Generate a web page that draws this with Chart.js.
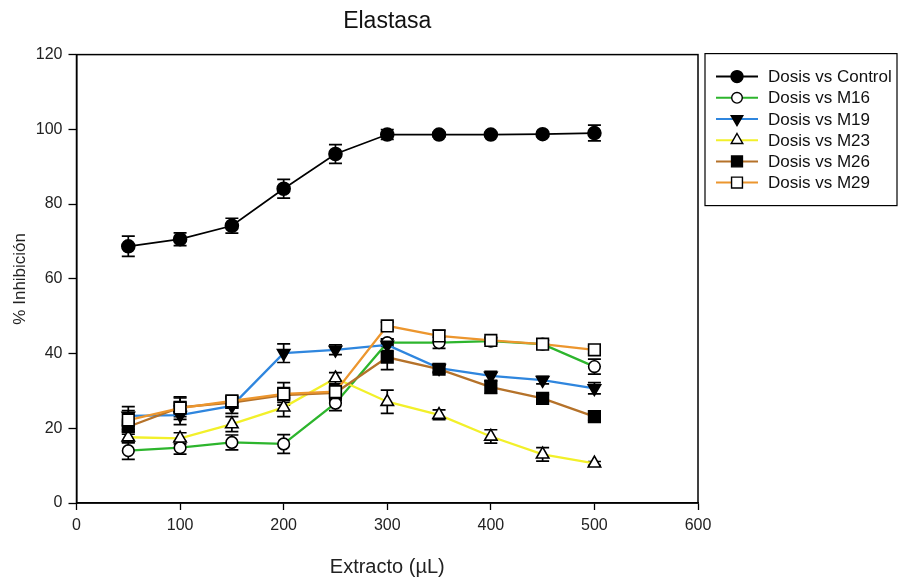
<!DOCTYPE html>
<html>
<head>
<meta charset="utf-8">
<script src="https://cdn.jsdelivr.net/npm/chart.js@4/dist/chart.umd.min.js"></script>
<style>
    html, body { margin: 0; padding: 0; background: #fff; }
    #wrap { width: 901px; height: 579px; }
</style>
</head>
<body>
<div id="wrap"><canvas id="elastasaChart" width="901" height="579"></canvas></div>
<script>
// values
const doses = [50, 100, 150, 200, 250, 300, 350, 400, 450, 500];
const xTicks = [0, 100, 200, 300, 400, 500, 600];
const yTicks = [0, 20, 40, 60, 80, 100, 120];

const control = [68.7, 70.6, 74.2, 84.1, 93.4, 98.6, 98.6, 98.6, 98.7, 99.0];
const controlErr = [2.7, 1.7, 2.0, 2.5, 2.5, 1.3, 0.6, 0.5, 0.6, 2.1];
const m16 = [14.0, 14.8, 16.2, 15.8, 26.7, 42.9, 42.9, 43.3, 42.5, 36.5];
const m16Err = [2.3, 1.7, 2.0, 2.5, 2.0, 1.0, 1.5, 0.8, 1.0, 2.0];
const m19 = [23.3, 23.5, 26.0, 40.1, 41.0, 42.3, 36.1, 34.0, 32.9, 30.7];
const m19Err = [2.5, 2.5, 2.0, 2.5, 1.3, 1.5, 1.0, 1.2, 1.0, 1.5];
const m23 = [17.6, 17.3, 21.1, 25.6, 33.4, 27.1, 23.6, 17.8, 13.0, 10.6];
const m23Err = [1.5, 1.5, 2.0, 2.5, 1.5, 3.1, 1.3, 1.8, 1.8, 0.5];
const m26 = [20.4, 25.6, 26.9, 28.9, 29.5, 39.0, 35.8, 31.0, 28.0, 23.1];
const m26Err = [2.0, 2.5, 1.5, 2.0, 2.0, 3.3, 1.0, 1.7, 1.0, 1.0];
const m29 = [22.2, 25.4, 27.3, 29.2, 29.8, 47.4, 44.7, 43.5, 42.5, 41.0];
const m29Err = [2.5, 3.0, 1.5, 3.0, 2.0, 1.0, 1.5, 0.8, 1.0, 1.0];

const FONT = "'Liberation Sans', Arial, sans-serif";

function series(label, values, errors, color, style, fill, radius, rotation, idx) {
    return {
        label: label,
        data: doses.map((d, i) => ({ x: d, y: values[i] })),
        errors: errors,
        showLine: true,
        borderColor: color,
        borderWidth: idx === 0 ? 1.7 : 2.3,
        tension: 0,
        pointStyle: style,
        pointRotation: rotation,
        pointRadius: radius,
        pointHoverRadius: radius,
        pointBackgroundColor: fill,
        pointBorderColor: '#000',
        pointBorderWidth: 1.6,
        order: 6 - idx
    };
}

// vertical error bars with caps, drawn under the markers
const errorBars = {
    id: 'errorBars',
    beforeDatasetsDraw(chart) {
        const ctx = chart.ctx;
        const ys = chart.scales.y;
        ctx.save();
        ctx.strokeStyle = '#000';
        ctx.lineWidth = 1.7;
        chart.data.datasets.forEach((ds, di) => {
            const meta = chart.getDatasetMeta(di);
            meta.data.forEach((pt, i) => {
                const v = ds.data[i].y, e = ds.errors[i];
                const top = ys.getPixelForValue(v + e);
                const bot = ys.getPixelForValue(v - e);
                ctx.beginPath();
                ctx.moveTo(pt.x, top); ctx.lineTo(pt.x, bot);
                ctx.moveTo(pt.x - 6.5, top); ctx.lineTo(pt.x + 6.5, top);
                ctx.moveTo(pt.x - 6.5, bot); ctx.lineTo(pt.x + 6.5, bot);
                ctx.stroke();
            });
        });
        ctx.restore();
    }
};

// box round the plot area
const frame = {
    id: 'frame',
    afterDraw(chart) {
        const a = chart.chartArea, ctx = chart.ctx;
        ctx.save();
        ctx.strokeStyle = '#000';
        ctx.lineWidth = 1.5;
        ctx.strokeRect(a.left, a.top, a.right - a.left, a.bottom - a.top);
        ctx.restore();
    }
};

// legend box to the right of the plot
const boxLegend = {
    id: 'boxLegend',
    afterDraw(chart) {
        const ctx = chart.ctx;
        const a = chart.chartArea;
        const bx = a.right + 7, by = a.top - 1, bw = 192, bh = 152;
        ctx.save();
        ctx.strokeStyle = '#000';
        ctx.lineWidth = 1.2;
        ctx.strokeRect(bx, by, bw, bh);
        ctx.font = '17px ' + FONT;
        ctx.textBaseline = 'middle';
        chart.data.datasets.forEach((ds, i) => {
            const y = by + 23 + i * 21.2;
            ctx.strokeStyle = ds.borderColor;
            ctx.lineWidth = 2;
            ctx.beginPath();
            ctx.moveTo(bx + 11, y); ctx.lineTo(bx + 53, y);
            ctx.stroke();
            ctx.fillStyle = ds.pointBackgroundColor;
            ctx.strokeStyle = '#000';
            ctx.lineWidth = 1.4;
            Chart.helpers.drawPoint(ctx, {
                pointStyle: ds.pointStyle,
                radius: ds.pointRadius - 0.5,
                rotation: ds.pointRotation,
                borderWidth: 1.4
            }, bx + 32, y);
            ctx.fillStyle = '#111';
            ctx.fillText(ds.label, bx + 63, y + 1);
        });
        ctx.restore();
    }
};

new Chart(document.getElementById('elastasaChart').getContext('2d'), {
    type: 'scatter',
    data: {
        datasets: [
            series('Dosis vs Control', control, controlErr, '#000000', 'circle', '#000', 6.5, 0, 0),
            series('Dosis vs M16', m16, m16Err, '#2db52d', 'circle', '#fff', 5.8, 0, 1),
            series('Dosis vs M19', m19, m19Err, '#2f86de', 'triangle', '#000', 7.2, 180, 2),
            series('Dosis vs M23', m23, m23Err, '#f2f02a', 'triangle', '#fff', 7.2, 0, 3),
            series('Dosis vs M26', m26, m26Err, '#b5722a', 'rect', '#000', 8.2, 0, 4),
            series('Dosis vs M29', m29, m29Err, '#ec962e', 'rect', '#fff', 8.2, 0, 5)
        ]
    },
    options: {
        responsive: false,
        animation: false,
        layout: {
            padding: { left: 0, right: 203, top: 0, bottom: 0 }
        },
        plugins: {
            legend: { display: false },
            tooltip: { enabled: false },
            title: {
                display: true,
                text: 'Elastasa',
                fullSize: false,
                color: '#111',
                font: { size: 23, family: FONT, weight: 'normal' },
                padding: { top: 8, bottom: 19 }
            }
        },
        scales: {
            x: {
                type: 'linear',
                min: 0,
                max: 600,
                afterBuildTicks: scale => { scale.ticks = xTicks.map(v => ({ value: v })); },
                afterFit: scale => { scale.height = 76; },
                border: { display: true, color: '#000', width: 1.5 },
                grid: { drawOnChartArea: false, drawTicks: true, tickLength: 7, color: '#000', tickWidth: 1.3 },
                ticks: { color: '#222', padding: 6, maxRotation: 0, font: { size: 16, family: FONT } },
                title: {
                    display: true,
                    text: 'Extracto (µL)',
                    color: '#222',
                    font: { size: 20, family: FONT },
                    padding: { top: 10, bottom: 0 }
                }
            },
            y: {
                type: 'linear',
                min: 0,
                max: 120,
                afterBuildTicks: scale => { scale.ticks = yTicks.map(v => ({ value: v })); },
                afterFit: scale => { scale.width = 76.5; },
                border: { display: true, color: '#000', width: 1.5 },
                grid: { drawOnChartArea: false, drawTicks: true, tickLength: 8, color: '#000', tickWidth: 1.3 },
                ticks: { color: '#222', padding: 6, font: { size: 16, family: FONT } },
                title: {
                    display: true,
                    text: '% Inhibición',
                    color: '#222',
                    font: { size: 17, family: FONT },
                    padding: { top: 10, bottom: 0 }
                }
            }
        }
    },
    plugins: [errorBars, frame, boxLegend]
});
</script>
</body>
</html>
